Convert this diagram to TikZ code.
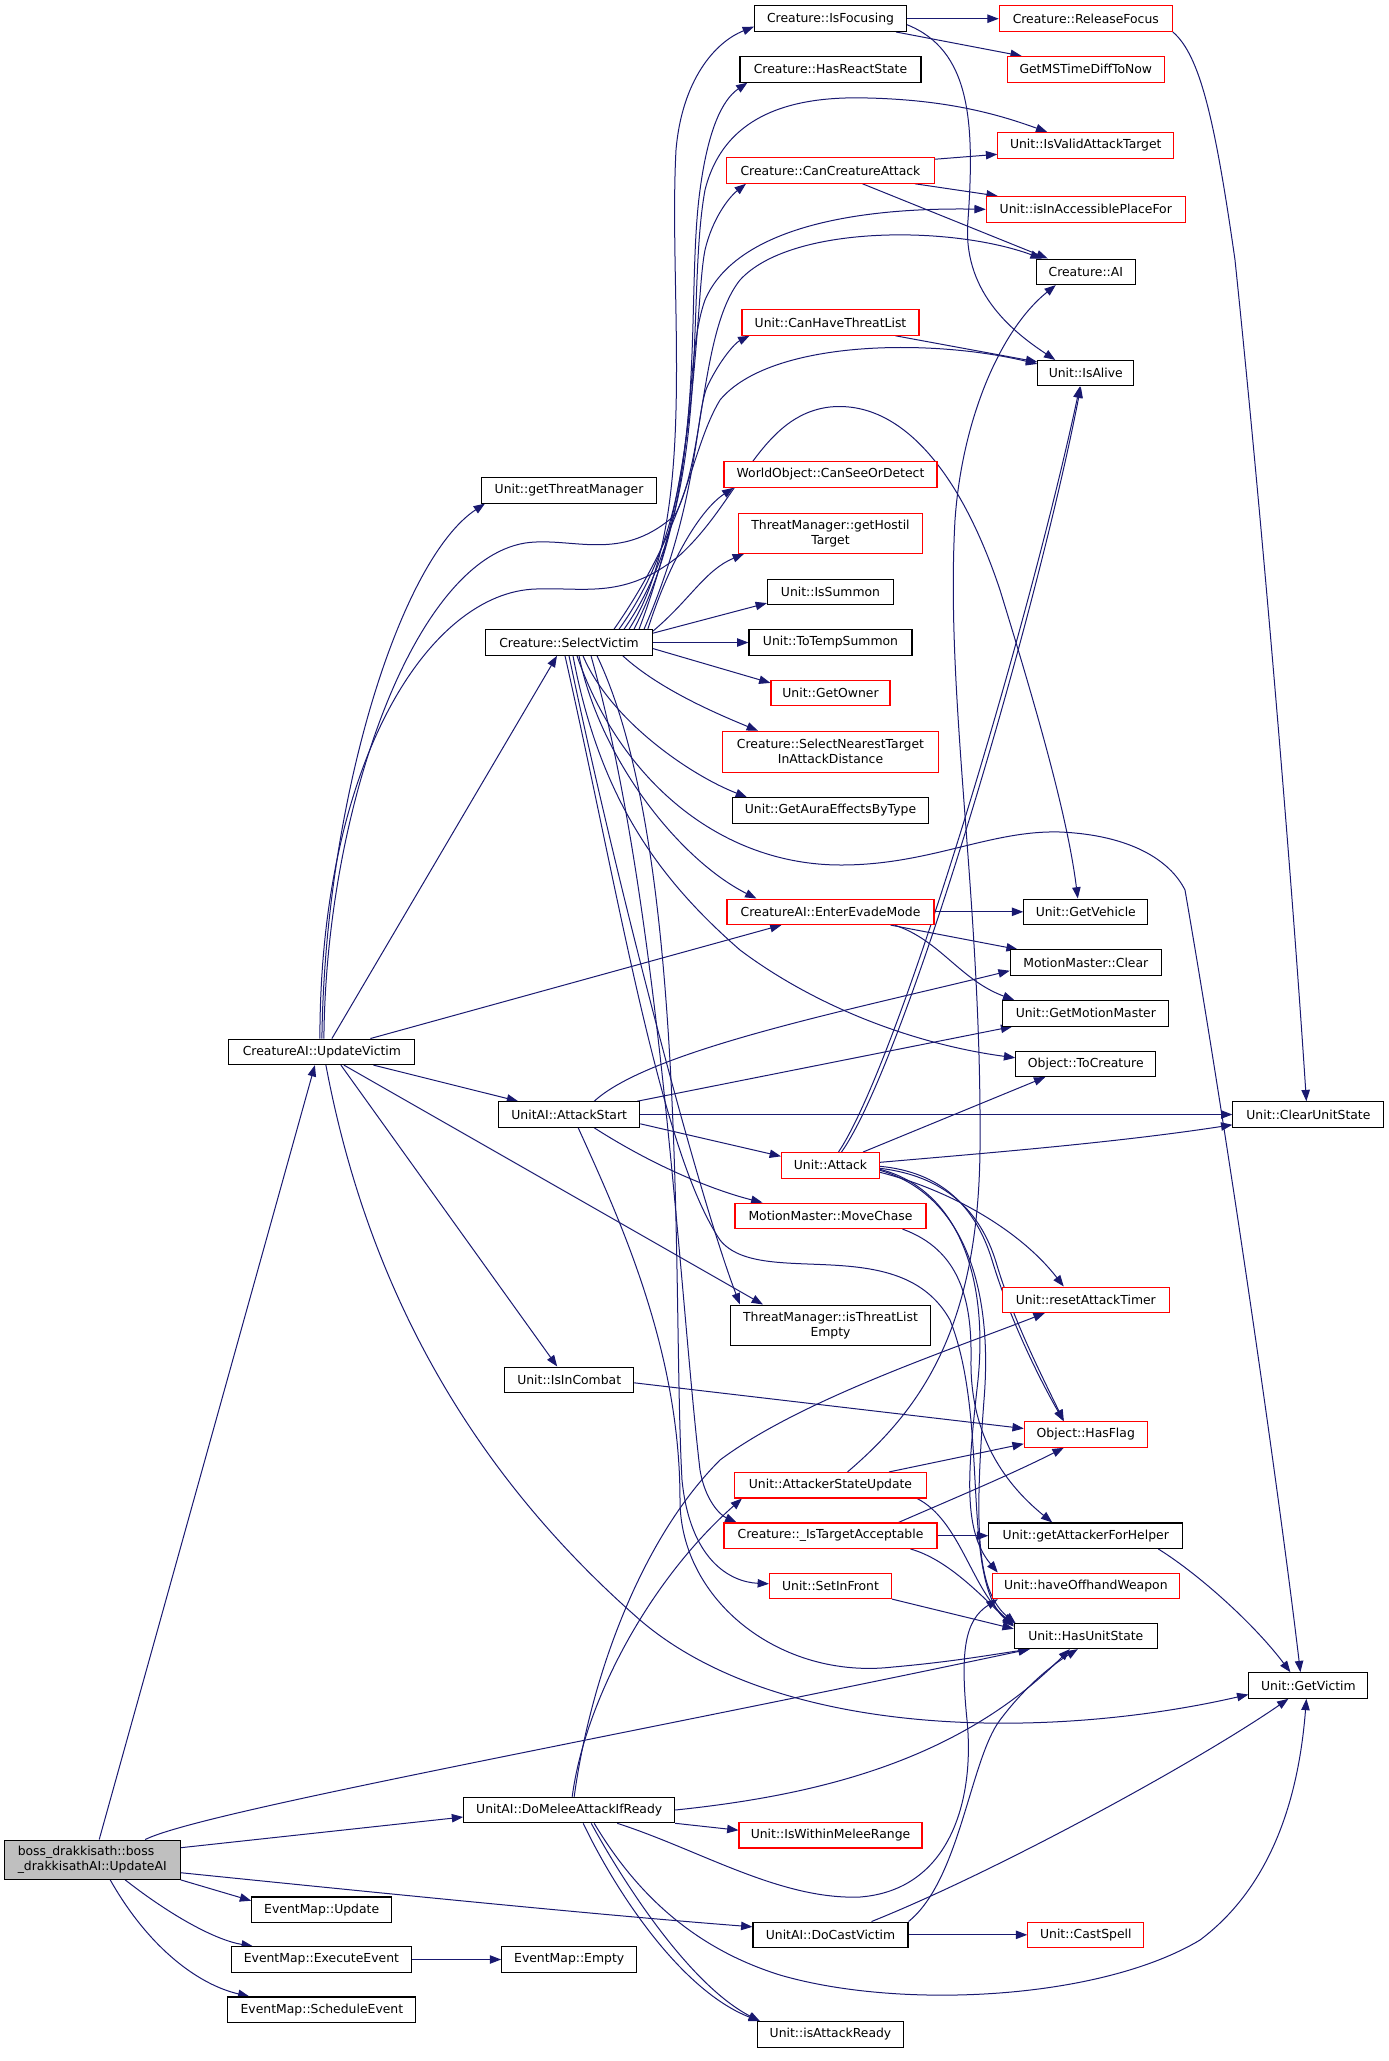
\documentclass[tikz,border=0pt]{standalone}
\usepackage{fontspec}
\setmainfont{DejaVu Sans}
\usetikzlibrary{arrows.meta,calc}
\definecolor{edgec}{HTML}{191970}
\definecolor{bgray}{HTML}{BFBFBF}
\pgfdeclarelayer{bg}
\pgfsetlayers{bg,main}
\begin{document}
\begin{tikzpicture}[x=0.75pt,y=-0.75pt,
  fn/.style={draw=black,line width=0.8pt,fill=white,inner sep=0pt,minimum height=0.75*25.5,
    font=\fontsize{9.3}{11.2}\selectfont,text=black},
  rfn/.style={fn,draw=red},
  bw/.style={minimum width=0.75*#1},
  tall/.style={minimum height=0.75*#1,align=center},
  edg/.style={draw=edgec,line width=0.75pt,-{Triangle[length=8.5pt,width=6.3pt]}}]
\useasboundingbox (0,0) rectangle (1389,2061);
% ---------- nodes ----------
\node[fn,bw=176,minimum height=0.75*39.3,fill=bgray,align=left] (B) at (92.2,1859.7) {boss\_drakkisath::boss\\\_drakkisathAI::UpdateAI};
\node[fn,bw=186] (UV) at (321.9,1051.8) {CreatureAI::UpdateVictim};
\node[fn,bw=140] (EMUpdate) at (321.7,1909.7) {EventMap::Update};
\node[fn,bw=180] (EMExec) at (321.4,1959.5) {EventMap::ExecuteEvent};
\node[fn,bw=188] (EMSched) at (321.9,2009.7) {EventMap::ScheduleEvent};
\node[fn,bw=175] (getTM) at (569,490.3) {Unit::getThreatManager};
\node[fn,bw=166.5] (SV) at (569,642.5) {Creature::SelectVictim};
\node[fn,bw=141] (AttackStart) at (569.2,1114.5) {UnitAI::AttackStart};
\node[fn,bw=129] (IsInCombat) at (569.2,1379.8) {Unit::IsInCombat};
\node[fn,bw=211] (DoMelee) at (569.2,1810) {UnitAI::DoMeleeAttackIfReady};
\node[fn,bw=135] (EMEmpty) at (569.2,1959.5) {EventMap::Empty};
% column 4
\node[fn,bw=152] (IsFocusing) at (830.5,18.7) {Creature::IsFocusing};
\node[fn,bw=181] (HasReactState) at (830.5,69.3) {Creature::HasReactState};
\node[rfn,bw=208] (CanCreatureAttack) at (830.5,170.5) {Creature::CanCreatureAttack};
\node[rfn,bw=177] (CanHaveThreatList) at (830.5,322.5) {Unit::CanHaveThreatList};
\node[rfn,bw=213] (CanSeeOrDetect) at (830.5,474.5) {WorldObject::CanSeeOrDetect};
\node[rfn,bw=184,tall=40.3] (getHostilTarget) at (830.5,533.2) {ThreatManager::getHostil\\Target};
\node[fn,bw=126] (IsSummon) at (830.5,591.8) {Unit::IsSummon};
\node[fn,bw=163] (ToTempSummon) at (830.5,642.5) {Unit::ToTempSummon};
\node[rfn,bw=119] (GetOwner) at (830.5,693.2) {Unit::GetOwner};
\node[rfn,bw=216,tall=41] (SelectNearest) at (830.5,751.8) {Creature::SelectNearestTarget\\InAttackDistance};
\node[fn,bw=196] (GetAuraEffects) at (830.5,810.5) {Unit::GetAuraEffectsByType};
\node[rfn,bw=207] (EnterEvade) at (830.5,911.8) {CreatureAI::EnterEvadeMode};
\node[rfn,bw=98] (Attack) at (830.5,1165.3) {Unit::Attack};
\node[rfn,bw=191] (MoveChase) at (830.5,1215.8) {MotionMaster::MoveChase};
\node[fn,bw=200,tall=40.3] (isThreatListEmpty) at (830.5,1325.2) {ThreatManager::isThreatList\\Empty};
\node[rfn,bw=192] (AttackerStateUpdate) at (830.5,1485.2) {Unit::AttackerStateUpdate};
\node[rfn,bw=213] (IsTargetAcceptable) at (830.5,1535.7) {Creature::\_IsTargetAcceptable};
\node[rfn,bw=122] (SetInFront) at (830.5,1585.8) {Unit::SetInFront};
\node[rfn,bw=183] (IsWithinMeleeRange) at (830.5,1835.2) {Unit::IsWithinMeleeRange};
\node[fn,bw=155] (DoCastVictim) at (830.5,1934.8) {UnitAI::DoCastVictim};
\node[fn,bw=146] (isAttackReady) at (830.5,2034.5) {Unit::isAttackReady};
% column 5
\node[rfn,bw=173] (ReleaseFocus) at (1085.8,18.7) {Creature::ReleaseFocus};
\node[rfn,bw=157] (GetMSTime) at (1085.8,69.3) {GetMSTimeDiffToNow};
\node[rfn,bw=176] (IsValidAttackTarget) at (1085.8,145.3) {Unit::IsValidAttackTarget};
\node[rfn,bw=199] (isInAccessible) at (1085.8,209.3) {Unit::isInAccessiblePlaceFor};
\node[fn,bw=99] (CreatureAI_) at (1085.8,271.8) {Creature::AI};
\node[fn,bw=96] (IsAlive) at (1085.8,373.2) {Unit::IsAlive};
\node[fn,bw=124] (GetVehicle) at (1085.8,911.8) {Unit::GetVehicle};
\node[fn,bw=151] (MMClear) at (1085.8,962.7) {MotionMaster::Clear};
\node[fn,bw=166] (GetMotionMaster) at (1085.8,1013.3) {Unit::GetMotionMaster};
\node[fn,bw=140] (ToCreature) at (1085.8,1063.8) {Object::ToCreature};
\node[rfn,bw=167] (resetAttackTimer) at (1085.8,1299.8) {Unit::resetAttackTimer};
\node[rfn,bw=123] (HasFlag) at (1085.8,1434.5) {Object::HasFlag};
\node[fn,bw=194] (getAttackerForHelper) at (1085.8,1535.7) {Unit::getAttackerForHelper};
\node[rfn,bw=187] (haveOffhand) at (1085.8,1585.8) {Unit::haveOffhandWeapon};
\node[fn,bw=143] (HasUnitState) at (1085.8,1635.8) {Unit::HasUnitState};
\node[rfn,bw=116] (CastSpell) at (1085.8,1934.8) {Unit::CastSpell};
% column 6
\node[fn,bw=151] (ClearUnitState) at (1308.4,1114.5) {Unit::ClearUnitState};
\node[fn,bw=119] (GetVictim) at (1308.4,1685.5) {Unit::GetVictim};
% ---------- edges ----------
\begin{pgfonlayer}{bg}
% boss
\draw[edg] ($(B.north)+(7,0)$) -- ($(UV.south)+(-7,0)$);
\draw[edg] ($(B.north)+(53,0)$) .. controls (200,1812) and (600,1740) .. ($(HasUnitState.south west)+(16,0)$);
\draw[edg] ($(B.east)+(0,-12)$) -- ($(DoMelee.west)+(0,7)$);
\draw[edg] ($(B.east)+(0,13)$) .. controls (400,1895) and (600,1915) .. ($(DoCastVictim.west)+(0,-8)$);
\draw[edg] (B.south east) -- ($(EMUpdate.west)+(0,-9)$);
\draw[edg] ($(B.south)+(33,0)$) .. controls (170,1915) and (215,1940) .. ($(EMExec.north west)+(22,0)$);
\draw[edg] ($(B.south)+(18,0)$) .. controls (150,1950) and (200,1985) .. ($(EMSched.north west)+(22,0)$);
\draw[edg] (EMExec) -- (EMEmpty);
% UpdateVictim
\draw[edg] (UV.north) .. controls (325,800) and (400,560) .. ($(getTM.south west)+(4,0)$);
\draw[edg] ($(UV.north)+(2,0)$) .. controls (326,800) and (420,545) .. (536,542) .. controls (580,540) and (625,560) .. (675,515) .. controls (705,460) and (700,330) .. (740,280) .. controls (790,225) and (950,225) .. ($(CreatureAI_.north west)+(6,0)$);
\draw[edg] ($(UV.north)+(-2,0)$) .. controls (320,760) and (430,592) .. (536,589) .. controls (585,587) and (625,600) .. (680,555) .. controls (740,500) and (760,415) .. (830,407) .. controls (900,400) and (960,470) .. (1000,590) .. controls (1040,720) and (1068,820) .. ($(GetVehicle.north)+(-8,0)$);
\draw[edg] ($(UV.north)+(10,0)$) -- ($(SV.south)+(-12,0)$);
\draw[edg] ($(UV.north east)+(-45,0)$) -- ($(EnterEvade.south west)+(55,0)$);
\draw[edg] ($(UV.south east)+(-42,0)$) -- ($(AttackStart.north west)+(20,0)$);
\draw[edg] ($(UV.south)+(19,0)$) -- ($(IsInCombat.north)+(-12,0)$);
\draw[edg] ($(UV.south)+(22,0)$) -- ($(isThreatListEmpty.north west)+(33,0)$);
\draw[edg] ($(UV.south)+(4,0)$) .. controls (370,1300) and (480,1480) .. (640,1620) .. controls (780,1740) and (1050,1740) .. ($(GetVictim.west)+(0,9)$);
% SelectVictim (top bundle)
\draw[edg] ($(SV.north)+(60,0)$) .. controls (700,520) and (668,300) .. (676,150) .. controls (682,80) and (715,42) .. ($(IsFocusing.west)+(0,8)$);
\draw[edg] ($(SV.north)+(65,0)$) .. controls (710,480) and (685,300) .. (700,190) .. controls (708,130) and (722,100) .. ($(HasReactState.south west)+(8,0)$);
\draw[edg] ($(SV.north)+(55,0)$) .. controls (715,500) and (685,300) .. (705,190) .. controls (725,110) and (800,96) .. (868,98) .. controls (950,100) and (1000,115) .. ($(IsValidAttackTarget.north west)+(50,0)$);
\draw[edg] ($(SV.north)+(70,0)$) .. controls (700,470) and (695,300) .. (705,250) .. controls (712,220) and (728,198) .. ($(CanCreatureAttack.south west)+(20,0)$);
\draw[edg] ($(SV.north)+(50,0)$) .. controls (705,510) and (680,370) .. (705,300) .. controls (735,230) and (850,207) .. (isInAccessible.west);
\draw[edg] ($(SV.north)+(75,0)$) .. controls (700,500) and (695,410) .. (708,385) .. controls (720,360) and (735,343) .. ($(CanHaveThreatList.south west)+(8,0)$);
\draw[edg] ($(SV.north)+(45,0)$) .. controls (690,520) and (690,450) .. (720,400) .. controls (770,340) and (930,338) .. ($(IsAlive.north west)+(0,4)$);
\draw[edg] ($(SV.north east)+(-5,0)$) .. controls (670,560) and (700,510) .. ($(CanSeeOrDetect.south west)+(10,0)$);
\draw[edg] ($(SV.north east)+(0,2)$) .. controls (690,600) and (705,570) .. ($(getHostilTarget.south west)+(6,0)$);
\draw[edg] ($(SV.north east)+(0,4)$) -- ($(IsSummon.south west)+(0,-2)$);
\draw[edg] (SV) -- (ToTempSummon);
\draw[edg] ($(SV.east)+(0,6)$) -- ($(GetOwner.north west)+(0,3)$);
\draw[edg] ($(SV.south east)+(-30,0)$) .. controls (660,690) and (720,715) .. ($(SelectNearest.north west)+(36,0)$);
\draw[edg] ($(SV.south)+(14,0)$) .. controls (610,720) and (690,775) .. ($(GetAuraEffects.north west)+(15,0)$);
\draw[edg] ($(SV.south)+(10,0)$) .. controls (600,760) and (680,860) .. ($(EnterEvade.north west)+(30,0)$);
\draw[edg] ($(SV.south)+(8,0)$) .. controls (620,780) and (720,865) .. (841,865) .. controls (930,865) and (990,830) .. (1060,832) .. controls (1130,835) and (1170,860) .. (1185,890) .. controls (1230,1150) and (1280,1500) .. ($(GetVictim.north)+(-8,0)$);
\draw[edg] ($(SV.south)+(4,0)$) .. controls (600,800) and (660,880) .. (740,950) .. controls (820,1010) and (920,1045) .. ($(ToCreature.west)+(0,-6)$);
\draw[edg] (SV.south) .. controls (620,900) and (700,1200) .. ($(isThreatListEmpty.north west)+(10,0)$);
\draw[edg] ($(SV.south)+(-4,0)$) .. controls (620,900) and (660,1150) .. (720,1240) .. controls (760,1290) and (900,1230) .. (950,1320) .. controls (990,1420) and (960,1580) .. ($(HasUnitState.north west)+(0,4)$);
\draw[edg] ($(SV.south)+(22,0)$) .. controls (660,900) and (680,1300) .. (700,1470) .. controls (705,1500) and (720,1515) .. ($(IsTargetAcceptable.north west)+(13,0)$);
\draw[edg] ($(SV.south)+(28,0)$) .. controls (690,850) and (672,1300) .. (682,1480) .. controls (690,1560) and (730,1582) .. ($(SetInFront.west)+(0,-2)$);
% AttackStart
\draw[edg] ($(AttackStart.north)+(25,0)$) .. controls (650,1050) and (850,1010) .. ($(MMClear.west)+(0,8)$);
\draw[edg] ($(AttackStart.north east)+(-3,0)$) -- ($(GetMotionMaster.south west)+(10,0)$);
\draw[edg] (AttackStart) -- (ClearUnitState);
\draw[edg] ($(AttackStart.south east)+(0,-4)$) -- ($(Attack.west)+(0,-9)$);
\draw[edg] ($(AttackStart.south)+(25,0)$) .. controls (660,1170) and (720,1192) .. ($(MoveChase.north west)+(28,0)$);
\draw[edg] ($(AttackStart.south)+(9,0)$) .. controls (620,1220) and (680,1350) .. (680,1500) .. controls (680,1600) and (780,1680) .. (893,1667) .. controls (950,1662) and (990,1655) .. ($(HasUnitState.south west)+(16,0)$);
% Unit::Attack
\draw[edg] ($(Attack.north)+(8,0)$) .. controls (900,1060) and (1030,620) .. ($(IsAlive.south)+(-6,0)$);
\draw[edg] ($(Attack.north)+(11,0)$) .. controls (905,1062) and (1035,622) .. ($(IsAlive.south)+(-5,0)$);
\draw[edg] ($(Attack.north east)+(-17,0)$) -- ($(ToCreature.south west)+(30,0)$);
\draw[edg] ($(Attack.east)+(0,-3)$) .. controls (1000,1152) and (1120,1142) .. ($(ClearUnitState.south west)+(0,-3)$);
\draw[edg] ($(Attack.east)+(0,7)$) .. controls (950,1190) and (1020,1230) .. ($(resetAttackTimer.north west)+(62,0)$);
\draw[edg] ($(Attack.east)+(0,1)$) .. controls (940,1172) and (975,1205) .. (992,1260) .. controls (1010,1320) and (1040,1380) .. ($(HasFlag.north west)+(40,0)$);
\draw[edg] ($(Attack.east)+(0,3)$) .. controls (944,1176) and (980,1210) .. (996,1262) .. controls (1013,1320) and (1043,1378) .. ($(HasFlag.north west)+(40,0)$);
\draw[edg] ($(Attack.east)+(0,4)$) .. controls (960,1190) and (988,1280) .. (978,1380) .. controls (968,1470) and (962,1530) .. ($(haveOffhand.north west)+(6,0)$);
\draw[edg] ($(Attack.east)+(0,5)$) .. controls (965,1195) and (993,1290) .. (984,1400) .. controls (975,1520) and (975,1590) .. ($(HasUnitState.north west)+(2,1)$);
% others
\draw[edg] ($(MoveChase.south east)+(-24,0)$) .. controls (960,1250) and (972,1300) .. (971,1360) .. controls (970,1430) and (1000,1480) .. ($(getAttackerForHelper.north west)+(64,0)$);
\draw[edg] ($(IsInCombat.east)+(0,3)$) -- ($(HasFlag.west)+(0,-6)$);
\draw[edg] (EnterEvade) -- (GetVehicle);
\draw[edg] ($(EnterEvade.south east)+(-44,0)$) -- ($(MMClear.north west)+(8,0)$);
\draw[edg] ($(EnterEvade.south east)+(-40,0)$) .. controls (940,940) and (960,980) .. ($(GetMotionMaster.north west)+(12,0)$);
\draw[edg] ($(CanCreatureAttack.north east)+(0,2)$) -- ($(IsValidAttackTarget.west)+(0,9)$);
\draw[edg] ($(CanCreatureAttack.south east)+(-20,0)$) -- ($(isInAccessible.north west)+(12,0)$);
\draw[edg] ($(CanCreatureAttack.south)+(32,0)$) -- ($(CreatureAI_.north west)+(12,0)$);
\draw[edg] ($(CanHaveThreatList.south east)+(-24,0)$) -- ($(IsAlive.north west)+(0,2)$);
\draw[edg] (IsFocusing) -- (ReleaseFocus);
\draw[edg] ($(IsFocusing.south east)+(-11,0)$) -- ($(GetMSTime.north west)+(15,0)$);
\draw[edg] ($(IsFocusing.east)+(0,6)$) .. controls (970,50) and (975,120) .. (968,220) .. controls (962,290) and (1010,330) .. ($(IsAlive.north west)+(18,0)$);
\draw[edg] (ReleaseFocus.south east) .. controls (1200,55) and (1215,120) .. (1235,260) .. controls (1260,500) and (1290,850) .. ($(ClearUnitState.north)+(-2,0)$);
\draw[edg] ($(AttackerStateUpdate.north)+(17,0)$) .. controls (920,1410) and (978,1330) .. (980,1150) .. controls (982,900) and (945,700) .. (955,520) .. controls (962,420) and (1000,330) .. ($(CreatureAI_.south west)+(20,0)$);
\draw[edg] ($(AttackerStateUpdate.north east)+(-38,0)$) -- ($(HasFlag.south west)+(0,-4)$);
\draw[edg] ($(AttackerStateUpdate.south east)+(-10,0)$) .. controls (960,1520) and (972,1590) .. ($(HasUnitState.north west)+(0,2)$);
\draw[edg] (IsTargetAcceptable) -- (getAttackerForHelper);
\draw[edg] ($(IsTargetAcceptable.north east)+(-39,0)$) .. controls (950,1500) and (1010,1475) .. ($(HasFlag.south west)+(40,0)$);
\draw[edg] ($(IsTargetAcceptable.south east)+(-27,0)$) .. controls (950,1560) and (985,1600) .. ($(HasUnitState.north west)+(0,3)$);
\draw[edg] (SetInFront.south east) -- ($(HasUnitState.west)+(0,-7)$);
\draw[edg] ($(getAttackerForHelper.south east)+(-25,0)$) .. controls (1200,1575) and (1255,1625) .. ($(GetVictim.north)+(-18,0)$);
% DoMeleeAttackIfReady
\draw[edg] ($(DoMelee.north)+(3,0)$) .. controls (585,1700) and (650,1580) .. ($(AttackerStateUpdate.south west)+(8,0)$);
\draw[edg] ($(DoMelee.north)+(5,0)$) .. controls (590,1680) and (640,1540) .. (720,1460) .. controls (800,1400) and (950,1350) .. ($(resetAttackTimer.south west)+(43,0)$);
\draw[edg] (DoMelee.east) .. controls (820,1795) and (960,1760) .. ($(HasUnitState.south)+(-16,0)$);
\draw[edg] (DoMelee.south east) -- ($(IsWithinMeleeRange.west)+(0,-5)$);
\draw[edg] ($(DoMelee.south east)+(-58,0)$) .. controls (700,1850) and (780,1900) .. (860,1897) .. controls (950,1890) and (975,1800) .. (967,1720) .. controls (960,1650) and (965,1620) .. ($(haveOffhand.south west)+(6,0)$);
\draw[edg] ($(DoMelee.south)+(25,0)$) .. controls (640,1900) and (700,1950) .. (780,1975) .. controls (900,2010) and (1100,2000) .. (1200,1940) .. controls (1280,1880) and (1300,1780) .. ($(GetVictim.south)+(-2,0)$);
\draw[edg] ($(DoMelee.south)+(14,0)$) .. controls (615,1890) and (680,1990) .. ($(isAttackReady.north west)+(3,0)$);
\draw[edg] ($(DoMelee.south)+(22,0)$) .. controls (625,1885) and (690,1985) .. ($(isAttackReady.north west)+(3,0)$);
% DoCastVictim
\draw[edg] (DoCastVictim) -- (CastSpell);
\draw[edg] ($(DoCastVictim.north)+(41,0)$) .. controls (1000,1870) and (1200,1760) .. ($(GetVictim.south)+(-20,0)$);
\draw[edg] (DoCastVictim.north east) .. controls (960,1880) and (970,1760) .. (1000,1720) .. controls (1030,1680) and (1060,1660) .. ($(HasUnitState.south)+(-8,0)$);
\end{pgfonlayer}
\end{tikzpicture}
\end{document}
